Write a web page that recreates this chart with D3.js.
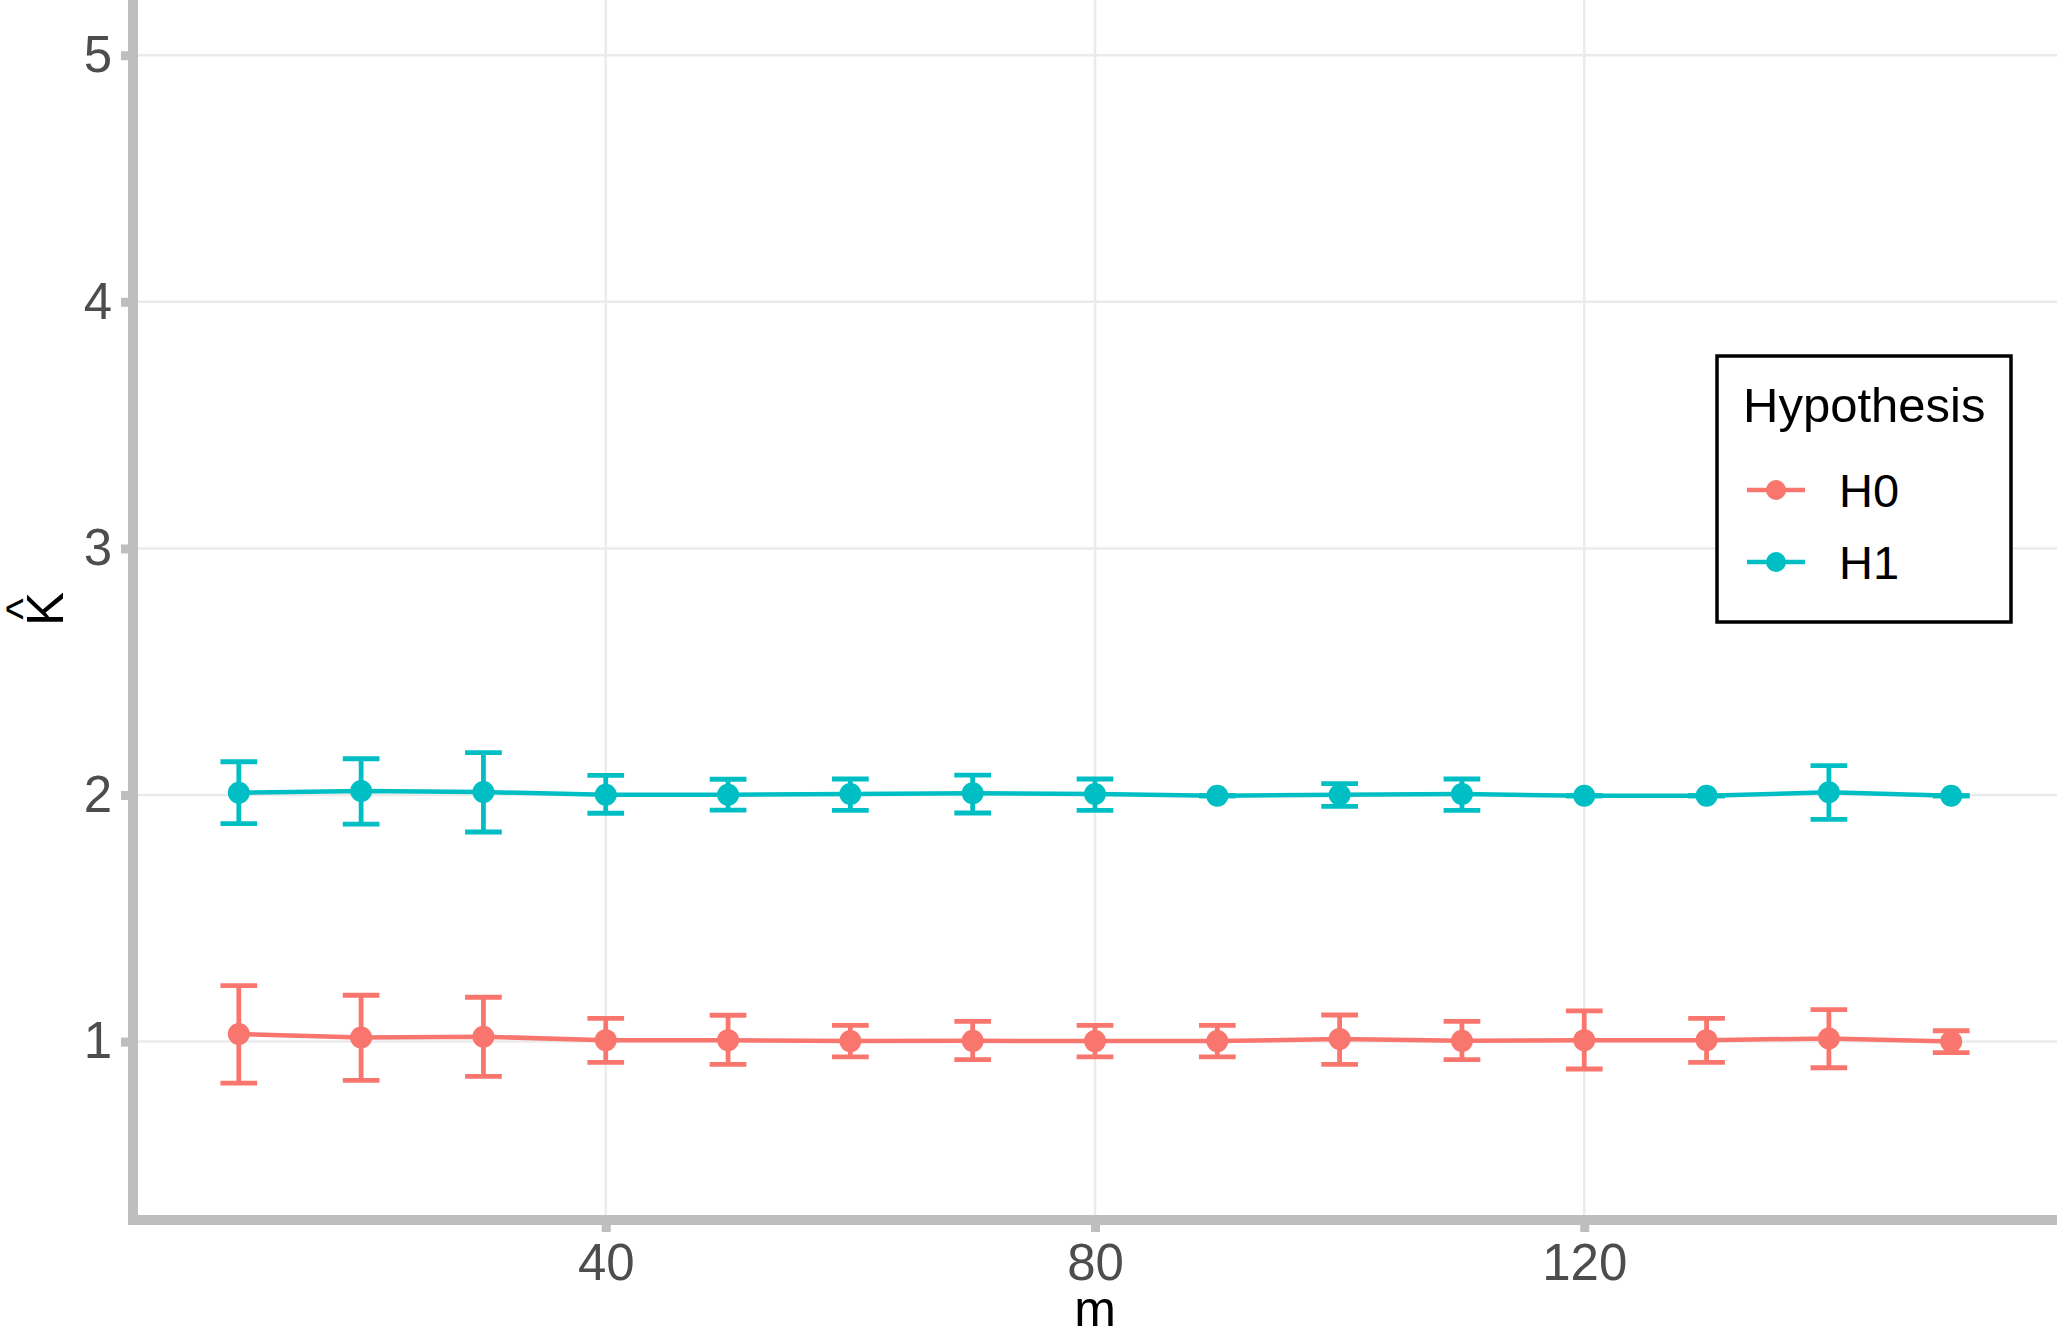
<!DOCTYPE html>
<html>
<head>
<meta charset="utf-8">
<script src="https://cdn.jsdelivr.net/npm/d3@7"></script>
<style>
  html, body { margin: 0; padding: 0; background: #ffffff; }
  svg { display: block; }
  text { font-family: "Liberation Sans", Arial, sans-serif; }
</style>
</head>
<body>
<div id="chart"></div>
<script>
// Values
var mValues = [10, 20, 30, 40, 50, 60, 70, 80, 90, 100, 110, 120, 130, 140, 150];

var h0Mean  = [1.031, 1.017, 1.020, 1.006, 1.006, 1.002, 1.003, 1.002, 1.002, 1.011, 1.003, 1.006, 1.006, 1.013, 1.000];
var h0Lower = [0.832, 0.843, 0.859, 0.916, 0.908, 0.938, 0.927, 0.938, 0.938, 0.908, 0.927, 0.889, 0.916, 0.894, 0.955];
var h0Upper = [1.227, 1.188, 1.180, 1.094, 1.107, 1.066, 1.082, 1.066, 1.066, 1.108, 1.082, 1.125, 1.094, 1.130, 1.044];

var h1Mean  = [2.009, 2.016, 2.012, 2.001, 2.001, 2.004, 2.007, 2.004, 1.997, 2.001, 2.004, 1.997, 1.997, 2.011, 1.997];
var h1Lower = [1.884, 1.882, 1.850, 1.926, 1.939, 1.938, 1.927, 1.938, 1.997, 1.954, 1.938, 1.997, 1.997, 1.901, 1.997];
var h1Upper = [2.135, 2.147, 2.172, 2.080, 2.064, 2.065, 2.081, 2.065, 1.997, 2.046, 2.065, 1.997, 1.997, 2.119, 1.997];

var seriesNames = ["H0", "H1"];
var seriesColors = ["#F8766D", "#00BFC4"];

var xTicks = [40, 80, 120];
var yTicks = [1, 2, 3, 4, 5];

var legendTitle = "Hypothesis";
var xTitle = "m";
var yTitle = "K";

var main = function ()
{
    "use strict";

    var width = 2057, height = 1327;
    var panel = {left: 133, right: 2057, top: 0, bottom: 1220};

    var svg = d3.select("#chart").append("svg")
        .attr("width", width)
        .attr("height", height);

    // Scales (domain includes ggplot style expansion)
    var x = d3.scaleLinear().domain([1.35, 158.65]).range([panel.left, panel.right]);
    var y = d3.scaleLinear().domain([0.2766, 5.224]).range([panel.bottom, panel.top]);

    // Grid lines
    var grid = svg.append("g");
    grid.selectAll(".gx").data(xTicks).enter().append("line")
        .attr("x1", function(d) { return x(d); })
        .attr("x2", function(d) { return x(d); })
        .attr("y1", panel.top).attr("y2", panel.bottom)
        .attr("stroke", "#EBEBEB").attr("stroke-width", 2.5);
    grid.selectAll(".gy").data(yTicks).enter().append("line")
        .attr("x1", panel.left).attr("x2", panel.right)
        .attr("y1", function(d) { return y(d); })
        .attr("y2", function(d) { return y(d); })
        .attr("stroke", "#EBEBEB").attr("stroke-width", 2.5);

    // Build series from the arrays
    var series = [
        {name: seriesNames[0], color: seriesColors[0], mean: h0Mean, lo: h0Lower, hi: h0Upper},
        {name: seriesNames[1], color: seriesColors[1], mean: h1Mean, lo: h1Lower, hi: h1Upper}
    ];
    series.forEach(function(s) {
        s.points = mValues.map(function(m, i) {
            return {x: m, y: s.mean[i], lo: s.lo[i], hi: s.hi[i]};
        });
    });

    var line = d3.line()
        .x(function(d) { return x(d.x); })
        .y(function(d) { return y(d.y); });

    var capHalf = 1.5; // error bar width of 3 units

    series.forEach(function(s) {
        var g = svg.append("g");

        g.append("path")
            .datum(s.points)
            .attr("fill", "none")
            .attr("stroke", s.color)
            .attr("stroke-width", 4.5)
            .attr("d", line);

        g.selectAll("circle").data(s.points).enter().append("circle")
            .attr("cx", function(d) { return x(d.x); })
            .attr("cy", function(d) { return y(d.y); })
            .attr("r", 11)
            .attr("fill", s.color);

        // Error bars: stem and two caps
        var eb = g.selectAll(".eb").data(s.points).enter().append("g");
        eb.append("line")
            .attr("x1", function(d) { return x(d.x); })
            .attr("x2", function(d) { return x(d.x); })
            .attr("y1", function(d) { return y(d.lo); })
            .attr("y2", function(d) { return y(d.hi); })
            .attr("stroke", s.color).attr("stroke-width", 4.8);
        ["lo", "hi"].forEach(function(k) {
            eb.append("line")
                .attr("x1", function(d) { return x(d.x - capHalf); })
                .attr("x2", function(d) { return x(d.x + capHalf); })
                .attr("y1", function(d) { return y(d[k]); })
                .attr("y2", function(d) { return y(d[k]); })
                .attr("stroke", s.color).attr("stroke-width", 4.8);
        });
    });

    // Axes
    var axisColor = "#BEBEBE";
    var xAxis = svg.append("g")
        .attr("transform", "translate(0," + panel.bottom + ")")
        .call(d3.axisBottom(x).tickValues(xTicks).tickSize(12).tickPadding(12));
    var yAxis = svg.append("g")
        .attr("transform", "translate(" + panel.left + ",0)")
        .call(d3.axisLeft(y).tickValues(yTicks).tickFormat(d3.format("d")).tickSize(12).tickPadding(9));

    [xAxis, yAxis].forEach(function(a) {
        a.select(".domain").remove();
        a.selectAll(".tick line").attr("stroke", axisColor).attr("stroke-width", 9);
        a.selectAll(".tick text")
            .attr("fill", "#4D4D4D")
            .style("font-size", "51px")
            .style("font-family", "'Liberation Sans', Arial, sans-serif");
    });
    xAxis.selectAll(".tick text").attr("dy", "0.71em");

    // Thick axis lines
    svg.append("line")
        .attr("x1", panel.left - 5).attr("x2", panel.right)
        .attr("y1", panel.bottom).attr("y2", panel.bottom)
        .attr("stroke", axisColor).attr("stroke-width", 10);
    svg.append("line")
        .attr("x1", panel.left).attr("x2", panel.left)
        .attr("y1", panel.top).attr("y2", panel.bottom + 5)
        .attr("stroke", axisColor).attr("stroke-width", 10);

    // Axis titles
    svg.append("text")
        .attr("x", (panel.left + panel.right) / 2)
        .attr("y", 1326)
        .attr("text-anchor", "middle")
        .style("font-size", "50px")
        .attr("fill", "#000000")
        .text(xTitle);

    var yt = svg.append("g")
        .attr("transform", "translate(0," + 609 + ") rotate(-90)");
    yt.append("text")
        .attr("x", 0).attr("y", 63)
        .attr("text-anchor", "middle")
        .style("font-size", "51px")
        .attr("fill", "#000000")
        .text(yTitle);
    yt.append("text")
        .attr("x", 0).attr("y", 38)
        .attr("text-anchor", "middle")
        .style("font-size", "46px")
        .attr("fill", "#000000")
        .text("^");

    // Legend
    var legend = svg.append("g");
    legend.append("rect")
        .attr("x", 1717).attr("y", 356)
        .attr("width", 294).attr("height", 266)
        .attr("fill", "#ffffff")
        .attr("stroke", "#000000").attr("stroke-width", 3.5);
    legend.append("text")
        .attr("x", 1743).attr("y", 422)
        .style("font-size", "49px")
        .attr("fill", "#000000")
        .text(legendTitle);

    var keys = legend.selectAll(".key").data(series).enter().append("g")
        .attr("transform", function(d, i) { return "translate(0," + (490 + i * 72) + ")"; });
    keys.append("line")
        .attr("x1", 1747).attr("x2", 1805)
        .attr("y1", 0).attr("y2", 0)
        .attr("stroke", function(d) { return d.color; })
        .attr("stroke-width", 4.5);
    keys.append("circle")
        .attr("cx", 1776).attr("cy", 0).attr("r", 10)
        .attr("fill", function(d) { return d.color; });
    keys.append("text")
        .attr("x", 1839).attr("y", 17)
        .style("font-size", "47px")
        .attr("fill", "#000000")
        .text(function(d) { return d.name; });
}

main();
</script>
</body>
</html>
